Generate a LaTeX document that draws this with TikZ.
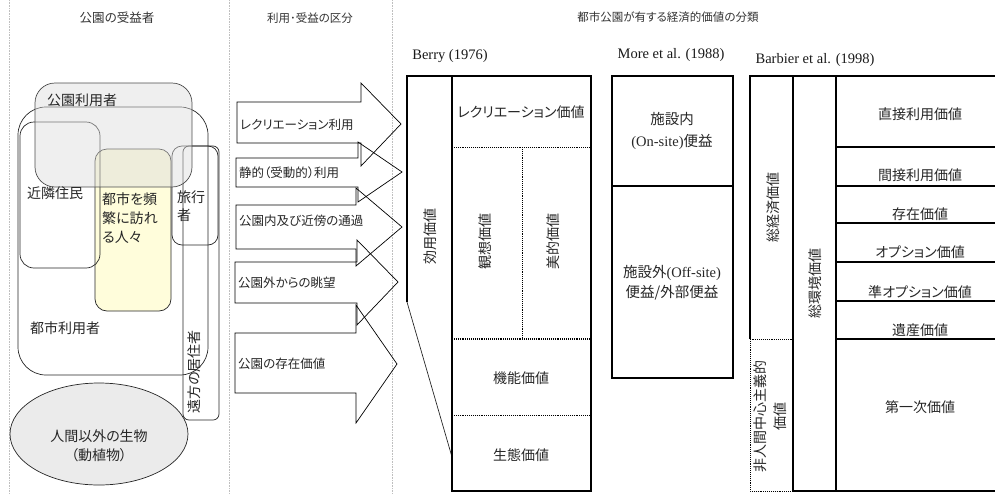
\documentclass[tikz,border=0pt]{standalone}
\usepackage{fontspec}
\setmainfont{Liberation Serif}
\newfontfamily\jp[RawFeature=+palt]{Noto Sans CJK JP}
\tikzset{
  hdr/.style={font=\jp\fontsize{11.5}{14}\selectfont, text=black!80, inner sep=0pt},
  lbl/.style={font=\jp\fontsize{14}{17}\selectfont, text=black!85, inner sep=0pt},
  arl/.style={font=\jp\fontsize{12.5}{15}\selectfont, text=black!85, inner sep=0pt, anchor=west},
  ttl/.style={font=\fontsize{14.5}{17}\selectfont, text=black!90, inner sep=0pt},
  vlbl/.style={lbl, rotate=90},
  thickln/.style={line width=1.6pt, black},
  thinln/.style={line width=0.7pt, black!85},
  dotln/.style={line width=0.9pt, densely dotted, black},
  sepln/.style={line width=0.6pt, densely dotted, black!25},
  arrowshape/.style={line width=0.7pt, black}
}
\begin{document}
\begin{tikzpicture}[x=1pt,y=-1pt]
\useasboundingbox (0,0) rectangle (995,493);
% separators
\draw[sepln] (9,0) -- (9,493);
\draw[sepln] (229,0) -- (229,493);
\draw[sepln] (392,0) -- (392,493);
% headers
\node[hdr, font=\jp\fontsize{12.5}{15}\selectfont] (h1) at (117,18) {公園の受益者};
\node[hdr] (h2) at (310,18) {利用･受益の区分};
\node[hdr] (h3) at (668,17) {都市公園が有する経済的価値の分類};

% ---------- left: beneficiaries ----------
\fill[yellow!14] (95,149) [rounded corners=12pt] rectangle (171,311);
\draw[thinln, rounded corners=28pt] (18,107) rectangle (208,375);
\draw[thinln, rounded corners=14pt] (20,122) rectangle (100,268);
\draw[thinln, rounded corners=12pt] (95,149) rectangle (171,311);
\draw[thinln, rounded corners=10pt] (172,146) rectangle (218,245);
\draw[thinln, rounded corners=6pt] (183,146) rectangle (219,420);
\fill[gray!28, fill opacity=0.45, rounded corners=20pt] (35,83) rectangle (192,187);
\draw[thinln, black!70, rounded corners=20pt] (35,83) rectangle (192,187);
\draw[thinln, fill=gray!16] (99,434) ellipse [x radius=89, y radius=51];

\node[lbl] (parkusers) at (82,100) {公園利用者};
\node[lbl, anchor=west] (neigh) at (27,193) {近隣住民};
\node[lbl, anchor=north west, align=left, font=\jp\fontsize{14}{19}\selectfont] (frequent) at (102,192) {都市を頻\\繁に訪れ\\る人々};
\node[lbl, anchor=north west, align=left, font=\jp\fontsize{14}{18}\selectfont] (travel) at (177,191) {旅行\\者};
\node[lbl, anchor=west] (cityusers) at (30,328) {都市利用者};
\node[vlbl] (remote) at (194,372) {遠方の居住者};
\node[lbl, align=center, font=\jp\fontsize{14}{19}\selectfont] (nonhuman) at (99,446) {人間以外の生物\\（動植物）};

% ---------- middle: arrows ----------
\draw[arrowshape] (237,102) -- (361,102) -- (361,83) -- (401,124) -- (361,166) -- (361,143) -- (237,143) -- cycle;
\draw[arrowshape] (236,158) -- (358,158) -- (358,142) -- (402,172) -- (358,202) -- (358,187) -- (236,187) -- cycle;
\draw[arrowshape] (236,205) -- (356,205) -- (356,188) -- (402,227) -- (356,266) -- (356,249) -- (236,249) -- cycle;
\draw[arrowshape] (235,262) -- (357,262) -- (357,240) -- (398,282) -- (357,325) -- (357,303) -- (235,303) -- cycle;
\draw[arrowshape] (235,333) -- (356,333) -- (356,305) -- (397,364) -- (356,423) -- (356,393) -- (235,393) -- cycle;
\node[arl] (a1) at (240,125) {レクリエーション利用};
\node[arl] (a2) at (239,173) {静的（受動的）利用};
\node[arl] (a3) at (239,221) {公園内及び近傍の通過};
\node[arl] (a4) at (238,283) {公園外からの眺望};
\node[arl] (a5) at (238,364) {公園の存在価値};

% ---------- Berry ----------
\node[ttl] (berry) at (450,56) {Berry (1976)};
\draw[dotln, line width=0.7pt] (452,147) -- (591,147);
\draw[dotln, line width=0.7pt] (522,147) -- (522,339);
\draw[dotln, line width=1.1pt] (452,339) -- (591,339);
\draw[dotln, line width=0.7pt] (452,415) -- (591,415);
\draw[thinln] (407,302) -- (452,457);
\draw[thickln] (407,302) -- (407,76) -- (591,76) -- (591,491) -- (452,491) -- (452,76);
\node[lbl] (recv) at (521,112) {レクリエーション価値};
\node[vlbl] (kanso) at (485,241) {観想価値};
\node[vlbl] (biteki) at (553,241) {美的価値};
\node[lbl] (kino) at (521,378) {機能価値};
\node[lbl] (seitai) at (521,455) {生態価値};
\node[vlbl] (koyo) at (430,236) {効用価値};

% ---------- More ----------
\node[ttl] (more) at (671,55) {More et al. (1988)};
\draw[thickln] (612,76) rectangle (733,378);
\draw[thickln] (612,186) -- (733,186);
\node[lbl, align=center, font=\fontsize{14.5}{22}\selectfont] (onsite) at (672,131) {{\jp 施設内}\\(On-site){\jp 便益}};
\node[lbl, align=center, font=\fontsize{14.5}{20}\selectfont] (offsite) at (672,283) {{\jp 施設外}(Off-site)\\{\jp 便益/外部便益}};

% ---------- Barbier ----------
\node[ttl] (barbier) at (815,60) {Barbier et al. (1998)};
\draw[dotln] (750,339) rectangle (793,491);
\draw[thickln] (750,339) -- (750,76) -- (995,76);
\draw[thickln] (793,76) -- (793,491);
\draw[thickln] (836,76) -- (836,491);
\draw[thickln] (793,491) -- (995,491);
\foreach \yy in {147,186,223,262,301,339} {
  \draw[thickln] (836,\yy) -- (995,\yy);
}
\node[lbl] (direct) at (920,114) {直接利用価値};
\node[lbl] (indirect) at (920,175) {間接利用価値};
\node[lbl] (exist) at (920,214) {存在価値};
\node[lbl] (option) at (920,252) {オプション価値};
\node[lbl] (qoption) at (920,292) {準オプション価値};
\node[lbl] (bequest) at (920,330) {遺産価値};
\node[lbl] (primary) at (920,407) {第一次価値};
\node[vlbl] (totecon) at (773,207) {総経済価値};
\node[vlbl] (totenv) at (815,283) {総環境価値};
\node[vlbl, align=center, font=\jp\fontsize{14}{20}\selectfont] (nonanthro) at (770,416) {非人間中心主義的\\価値};
\end{tikzpicture}
\end{document}
